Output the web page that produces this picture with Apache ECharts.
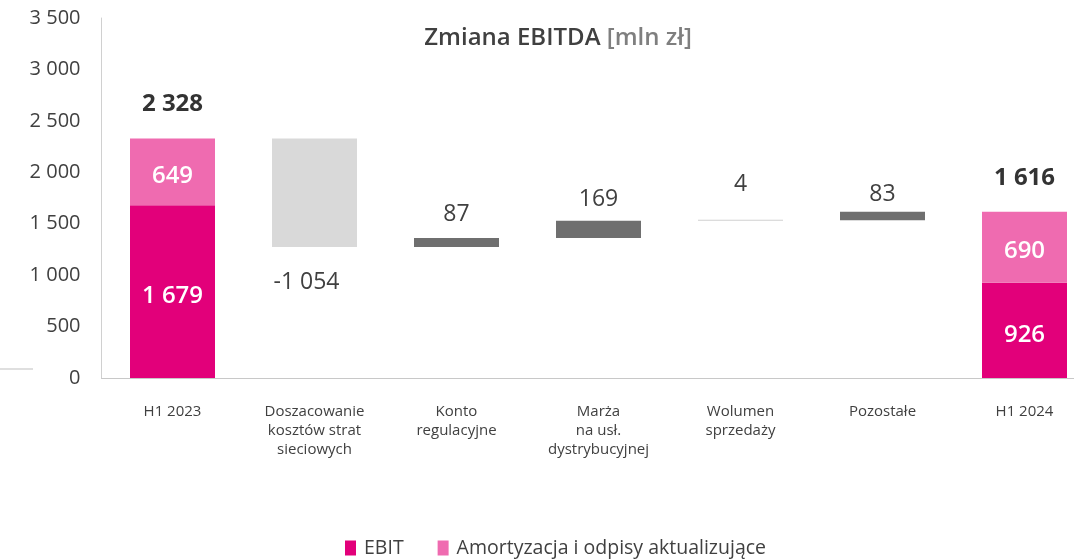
<!DOCTYPE html>
<html><head><meta charset="utf-8">
<script src="https://cdn.jsdelivr.net/npm/echarts@6/dist/echarts.min.js"></script>
<style>html,body{margin:0;padding:0;background:#fff}#c{width:1074px;height:560px}</style>
</head><body><div id="c"></div>
<script>
const categories = ['H1 2023', 'Doszacowanie\nkosztów strat\nsieciowych', 'Konto\nregulacyjne', 'Marża\nna usł.\ndystrybucyjnej', 'Wolumen\nsprzedaży', 'Pozostałe', 'H1 2024'];
const ebit = [1679, null, null, null, null, null, 926];
const amort = [649, null, null, null, null, null, 690];
const changes = [null, -1054, 87, 169, 4, 83, null];
const yTicks = [0, 500, 1000, 1500, 2000, 2500, 3000, 3500];

const FONT = 'Open Sans';
const fmt = v => String(Math.abs(v)).replace(/\B(?=(\d{3})+(?!\d))/g, ' ');
const fmtS = v => (v < 0 ? '-' : '') + fmt(v);

// waterfall helper built from data
let cum = ebit[0] + amort[0];
const base = [], decBar = [], incBar = [];
changes.forEach((c, i) => {
  if (c === null) { base.push(null); decBar.push(null); incBar.push(null); return; }
  if (c < 0) { base.push(cum + c); decBar.push(-c); incBar.push(null); }
  else { base.push(cum); incBar.push(c); decBar.push(null); }
  cum += c;
});
const labelDist = [0, 0, 12, 10, 24, 6, 0];

const chart = echarts.init(document.getElementById('c'), null, {renderer: 'canvas'});
chart.setOption({
  animation: false,
  textStyle: {fontFamily: FONT},
  title: {
    text: '{a|Zmiana EBITDA }{b|[mln zł]}',
    left: 553, top: 21, textAlign: 'center',
    textStyle: {rich: {
      a: {fontFamily: FONT, fontSize: 24, fontWeight: 600, color: '#404040'},
      b: {fontFamily: FONT, fontSize: 24, fontWeight: 600, color: '#7f7f7f'}
    }}
  },
  legend: {
    bottom: -3, left: 340, itemWidth: 11, itemHeight: 15, itemGap: 34,
    icon: 'rect',
    data: ['EBIT', 'Amortyzacja i odpisy aktualizujące'],
    textStyle: {fontFamily: FONT, fontSize: 19.5, color: '#404040', padding: [0, 0, 0, 3]}
  },
  graphic: [{type: 'line', shape: {x1: 0, y1: 369, x2: 33, y2: 369}, style: {stroke: '#bfbfbf', lineWidth: 1}}],
  grid: {left: 101.5, width: 994, top: 18, bottom: 182, outerBoundsMode: 'none', containLabel: false},
  xAxis: {
    type: 'category', data: categories,
    axisLine: {lineStyle: {color: '#c8c8c8'}},
    axisTick: {show: false},
    axisLabel: {fontFamily: FONT, fontSize: 15, color: '#404040', lineHeight: 19, margin: 24}
  },
  yAxis: {
    type: 'value', min: 0, max: 3500, interval: 500,
    axisLine: {show: true, lineStyle: {color: '#d0d0d0'}},
    axisTick: {show: false}, splitLine: {show: false},
    axisLabel: {fontFamily: FONT, fontSize: 20, color: '#404040', margin: 21,
      formatter: v => yTicks.includes(v) ? fmt(v) : ''}
  },
  series: [
    {name: 'base', type: 'bar', stack: 's', barWidth: 85, data: base,
      itemStyle: {color: 'transparent'}, silent: true},
    {name: 'EBIT', type: 'bar', stack: 's', barWidth: 85, data: ebit,
      itemStyle: {color: '#e2007a'},
      label: {show: true, position: 'inside', offset: [0, 5], color: '#fff', fontFamily: FONT, fontSize: 24, fontWeight: 600,
        formatter: p => fmt(p.value)}},
    {name: 'Amortyzacja i odpisy aktualizujące', type: 'bar', stack: 's', barWidth: 85, data: amort,
      itemStyle: {color: '#ef6bb0'},
      label: {show: true, position: 'inside', offset: [0, 4], color: '#fff', fontFamily: FONT, fontSize: 24, fontWeight: 600,
        formatter: p => fmt(p.value)}},
    {name: 'total', type: 'bar', stack: 's', barWidth: 85,
      data: ebit.map((e, i) => e === null ? null : 0),
      itemStyle: {color: 'transparent'},
      label: {show: true, position: 'top', distance: 22, color: '#333', fontFamily: FONT, fontSize: 24, fontWeight: 700,
        formatter: p => fmt(ebit[p.dataIndex] + amort[p.dataIndex])}},
    {name: 'dec', type: 'bar', stack: 's', barWidth: 85, data: decBar,
      itemStyle: {color: '#d9d9d9'},
      label: {show: true, position: 'bottom', distance: 24, offset: [-8, 0], color: '#404040', fontFamily: FONT, fontSize: 23,
        formatter: p => fmtS(changes[p.dataIndex])}},
    {name: 'inc', type: 'bar', stack: 's', barWidth: 85,
      data: incBar.map((v, i) => v === null ? null : {value: v,
        itemStyle: {color: v < 10 ? '#d0d0d0' : '#6f6f6f'},
        label: {distance: labelDist[i]}}),
      barMinHeight: 1,
      label: {show: true, position: 'top', color: '#404040', fontFamily: FONT, fontSize: 23,
        formatter: p => fmtS(changes[p.dataIndex])}}
  ]
});
</script></body></html>
